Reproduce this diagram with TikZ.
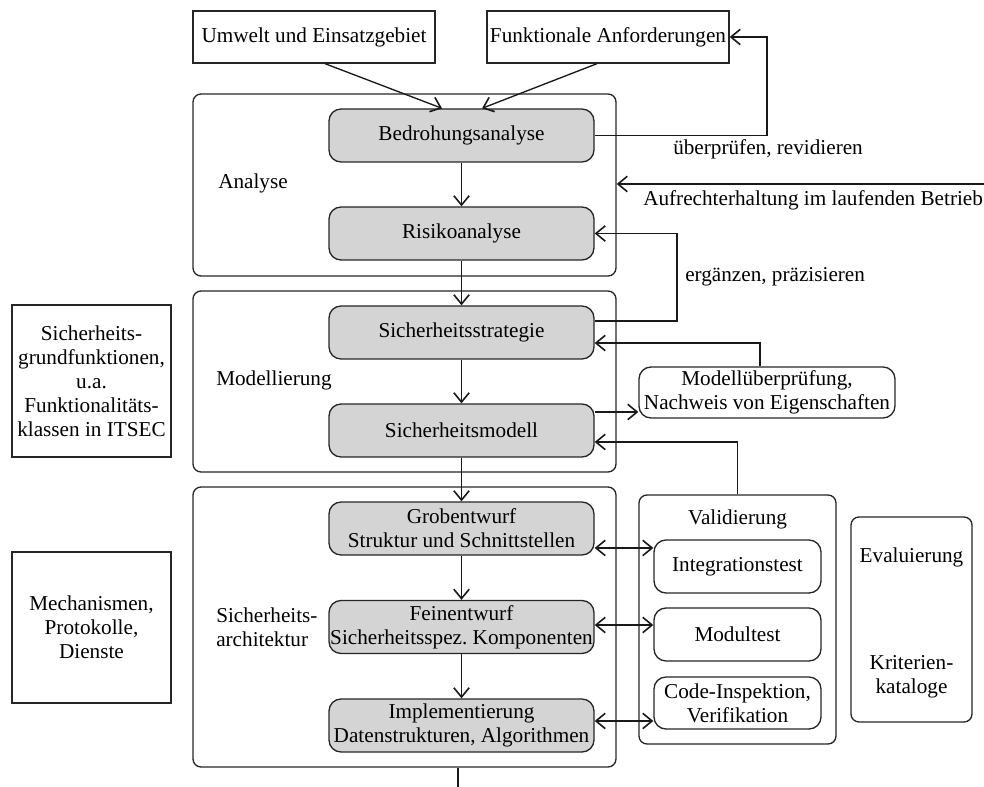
\documentclass[tikz,border=0pt]{standalone}
\usepackage{fontspec}
\setmainfont{Liberation Serif}
\usetikzlibrary{arrows.meta}
\begin{document}
\frenchspacing
\begin{tikzpicture}[x=0.75pt,y=-0.75pt,
  every node/.style={font=\fontsize{15.9}{18}\selectfont, text=black},
  plain/.style={draw=black!85, line width=1pt, inner sep=2pt, align=center},
  stage/.style={plain, fill=black!17, rounded corners=9pt, inner xsep=0pt,
    minimum width=198.75pt, minimum height=39.75pt},
  phase/.style={draw=black!85, line width=1pt, rounded corners=6pt,
    inner sep=0pt, minimum width=317.25pt},
  testbox/.style={plain, rounded corners=9pt, minimum width=125.25pt, minimum height=39.75pt},
  link/.style={draw=black!90, line width=1pt},
  tip/.tip={Straight Barb[length=7pt,width=11.5pt,line width=1.2pt]},
  arr/.style={link, -tip},
  darr/.style={link, tip-tip},
  lbl/.style={inner sep=0pt, anchor=west, align=left}
]
\useasboundingbox (0,0) rectangle (984,787);

% phase frames
\node[phase, minimum height=136.5pt]  (ana)  at (404.5,185)   {};
\node[phase, minimum height=135.75pt] (mod)  at (404.5,381.5) {};
\node[phase, minimum height=210pt]    (arch) at (404.5,627)   {};
\node[lbl] (anaT)  at (218,183) {Analyse};
\node[lbl] (modT)  at (216,380) {Modellierung};
\node[lbl] (archT) at (216,627) {Sicherheits-\\architektur};

% inputs
\node[plain, minimum width=181.5pt, minimum height=39pt] (env)  at (314,37) {Umwelt und Einsatzgebiet};
\node[plain, minimum width=181.5pt, minimum height=39pt] (func) at (608,37) {Funktionale Anforderungen};

% development stages
\node[stage] (bedro) at (461.5,135.5) {Bedrohungsanalyse};
\node[stage] (risk)  at (461.5,233.5) {Risikoanalyse};
\node[stage] (strat) at (461.5,332.5) {Sicherheitsstrategie};
\node[stage] (model) at (461.5,430.5) {Sicherheitsmodell};
\node[stage] (grob)  at (461.5,528.5) {Grobentwurf\\Struktur und Schnittstellen};
\node[stage] (fein)  at (461.5,627)   {Feinentwurf\\Sicherheitsspez. Komponenten};
\node[stage] (impl)  at (461.5,725.5) {Implementierung\\Datenstrukturen, Algorithmen};

% side boxes
\node[plain, minimum width=119.25pt, minimum height=114pt] (basic) at (91.5,381)
  {Sicherheits-\\grundfunktionen,\\u.a.\\Funktionalitäts-\\klassen in ITSEC};
\node[plain, minimum width=119.25pt, minimum height=113.25pt] (mech) at (91.5,627.5)
  {Mechanismen,\\Protokolle,\\Dienste};

% verification
\node[plain, rounded corners=9pt, minimum width=192pt, minimum height=38.25pt, inner sep=1pt]
  (mcheck) at (767,392.5) {Modellüberprüfung,\\Nachweis von Eigenschaften};
\node[phase, minimum width=147.75pt, minimum height=186.75pt] (valid) at (737.5,619.5) {};
\node (validT) at (737.5,519) {Validierung};
\node[testbox] (integ) at (737.5,566.5) {Integrationstest};
\node[testbox] (modt)  at (737.5,634.5) {Modultest};
\node[testbox, minimum height=39pt] (code) at (737.5,703) {Code-Inspektion,\\Verifikation};

\node[phase, minimum width=90.75pt, minimum height=153.75pt] (eval) at (911.5,619.5) {};
\node[align=center] (evalT) at (911.5,557) {Evaluierung};
\node[align=center] (krit)  at (911.5,677) {Kriterien-\\kataloge};

% labels of the feedback loops
\node[lbl] (revT) at (673,149) {überprüfen, revidieren};
\node[lbl] (ergT) at (685,277) {ergänzen, präzisieren};
\node[lbl] (betT) at (643,200) {Aufrechterhaltung im laufenden Betrieb};

% bend points
\coordinate (revx) at (767,0);
\coordinate (ergx) at (677,0);
\coordinate (betr) at (984,184);
\coordinate (tail) at (458,787);

% inputs into the threat analysis
\draw[arr] ([xshift=8.25pt]env.south) -- ([xshift=-14.6pt]bedro.north);
\draw[arr] ([xshift=-8.25pt]func.south) -- ([xshift=15.4pt]bedro.north);

% main chain
\draw[arr] (bedro) -- (risk);
\draw[arr] (risk) -- (strat);
\draw[arr] (strat) -- (model);
\draw[arr] (model) -- (grob);
\draw[arr] (grob) -- (fein);
\draw[arr] (fein) -- (impl);
\draw[link] (arch.south -| tail) -- (tail);

% feedback loops
\draw[arr] (bedro.east) -- (bedro.east -| revx) -- (func.east -| revx) -- (func.east);
\draw[arr] (betr) -- (betr -| ana.east);
\draw[arr] ([yshift=8.6pt]strat.east) -- ([yshift=8.6pt]strat.east -| ergx)
  -- (risk.east -| ergx) -- (risk.east);
\draw[arr] ([xshift=-5.25pt]mcheck.north) |- ([yshift=-7.9pt]strat.east);
\draw[arr] ([yshift=13.9pt]model.east) -- ([yshift=13.9pt]model.east -| mcheck.west);
\draw[arr] (valid.north) |- ([yshift=-8.6pt]model.east);

% validation links
\draw[darr] ([yshift=-14.6pt]grob.east) -- ([yshift=-14.6pt]grob.east -| integ.west);
\draw[darr] ([yshift=1.5pt]fein.east) -- ([yshift=1.5pt]fein.east -| modt.west);
\draw[darr] ([yshift=3.4pt]impl.east) -- ([yshift=3.4pt]impl.east -| code.west);
\end{tikzpicture}
\end{document}
